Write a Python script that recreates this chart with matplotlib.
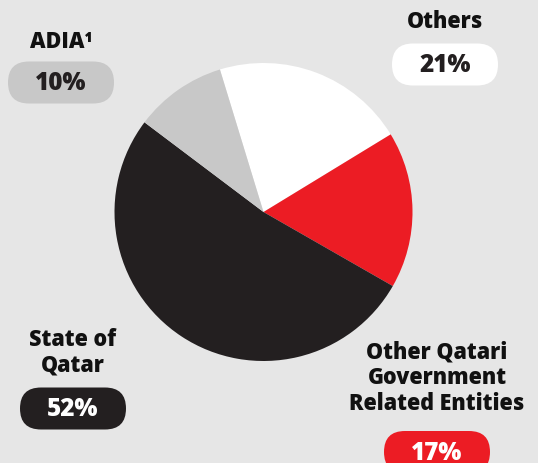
# Shareholder structure pie chart
import numpy as np
import matplotlib.pyplot as plt
from matplotlib.patches import FancyBboxPatch

# --------- Data ---------
labels = ['Others', 'Other Qatari\nGovernment\nRelated Entities', 'State of\nQatar', 'ADIA\u00b9']
shares = [21, 17, 52, 10]
pct_text = [f'{v}%' for v in shares]

# --------- Styles ---------
bg = '#e6e6e6'
slice_colors = ['#ffffff', '#ec1c24', '#231f20', '#c8c8c8']
pill_text_colors = ['#231f20', '#ffffff', '#ffffff', '#231f20']
FONT = ['Open Sans', 'DejaVu Sans']

W, H = 538, 463
fig = plt.figure(figsize=(W / 100, H / 100), dpi=100)
fig.patch.set_facecolor(bg)

# pie axes (pixel placement: centre 263.5/212, radius 149)
cx, cy, r = 263.5, 212, 149
ax = fig.add_axes([(cx - r) / W, (H - cy - r) / H, 2 * r / W, 2 * r / H])
ax.pie(shares, colors=slice_colors, startangle=107, counterclock=False,
       wedgeprops=dict(linewidth=0))
ax.set_xlim(-1, 1)
ax.set_ylim(-1, 1)
ax.set_aspect('equal')
ax.axis('off')

# overlay axes in pixel coordinates for labels
ov = fig.add_axes([0, 0, 1, 1])
ov.set_xlim(0, W)
ov.set_ylim(H, 0)
ov.axis('off')
ov.patch.set_alpha(0)

# label positions (x centre, title centre y, pill centre y)
lab_pos = [(445, 21.5, 64.5), (437, 378.5, 452), (73, 353, 408.5), (61, 42.5, 82.5)]
pill_w, pill_h = 106, 42

for i in range(len(labels)):
    x, ty, py = lab_pos[i]
    ov.text(x, ty, labels[i], ha='center', va='center', fontsize=15.5,
            fontweight='heavy', family=FONT, color='#111111', linespacing=1.1)
    pill = FancyBboxPatch((x - pill_w / 2, py - pill_h / 2), pill_w, pill_h,
                          boxstyle='round,pad=0,rounding_size=21',
                          facecolor=slice_colors[i], edgecolor='none')
    ov.add_patch(pill)
    ov.text(x, py + 1, pct_text[i], ha='center', va='center', fontsize=17.5,
            fontweight='heavy', family=FONT, color=pill_text_colors[i])

fig.savefig('out.png', dpi=100, facecolor=bg)
